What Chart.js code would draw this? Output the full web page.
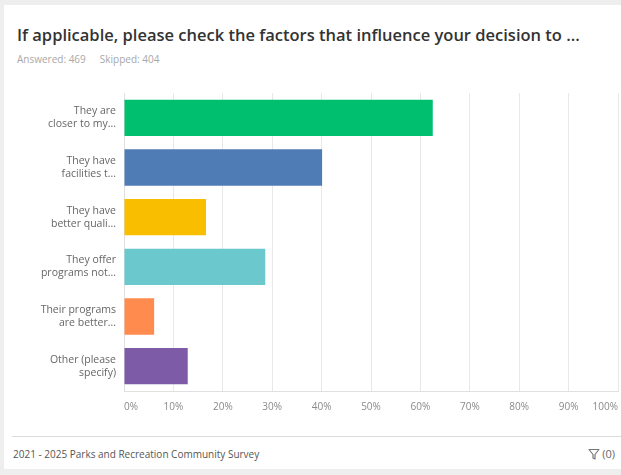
<!DOCTYPE html>
<html>
<head>
<meta charset="utf-8">
<script src="https://cdn.jsdelivr.net/npm/chart.js@4"></script>
<style>
  html, body { margin: 0; padding: 0; }
  body { width: 621px; height: 475px; background: #eeeeee; position: relative; overflow: hidden; font-family: "Open Sans", sans-serif; }
  .card { position: absolute; left: 4px; top: 5px; right: 0; bottom: 6px; background: #fff; }
  .title { position: absolute; left: 17px; top: 23px; font-size: 16.5px; font-weight: 600; color: #333; white-space: nowrap; }
  .meta { position: absolute; left: 17px; top: 52px; font-size: 10px; color: #a8a8a8; }
  .meta span { margin-right: 14px; }
  .chart-wrap { position: absolute; left: 0; top: 85px; width: 621px; height: 335px; }
  .footer-line { position: absolute; left: 12px; right: 0; top: 436px; border-top: 1px solid #dcdcdc; }
  .footer { position: absolute; left: 13px; top: 447px; font-size: 10px; color: #555; }
  .filter { position: absolute; right: 6px; top: 446px; font-size: 11px; color: #666; }
  .filter svg { vertical-align: -2px; margin-right: 2px; }
</style>
</head>
<body>
<div class="card"></div>
<div class="title">If applicable, please check the factors that influence your decision to ...</div>
<div class="meta"><span>Answered: 469</span><span>Skipped: 404</span></div>
<div class="chart-wrap"><canvas id="chart" width="621" height="335"></canvas></div>
<div class="footer-line"></div>
<div class="footer">2021 - 2025 Parks and Recreation Community Survey</div>
<div class="filter"><svg width="12" height="12" viewBox="0 0 12 12"><path d="M1 1.5h10L7 6.5V11L5 10V6.5z" fill="none" stroke="#777" stroke-width="1.2" stroke-linejoin="round"/></svg>(0)</div>

<script>
// answer choices (labels are truncated the same way the survey tool does)
const categories = [
  ["They are", "closer to my..."],
  ["They have", "facilities t..."],
  ["They have", "better quali..."],
  ["They offer", "programs not..."],
  ["Their programs", "are better..."],
  ["Other (please", "specify)"]
];
// share of respondents, percent
const responses = [62.5, 40.1, 16.6, 28.6, 6.1, 12.9];
const barColors = ["#00bf6f", "#507cb6", "#f9be00", "#6bc8cd", "#ff8b4f", "#7d5ba6"];
const tickValues = [0, 10, 20, 30, 40, 50, 60, 70, 80, 90, 100];

const ctx = document.getElementById("chart").getContext("2d");
const myChart = new Chart(ctx, {
  type: "bar",
  data: {
    labels: categories,
    datasets: [
      {
        data: responses,
        backgroundColor: barColors,
        borderWidth: 0,
        categoryPercentage: 0.73,
        barPercentage: 1
      }
    ]
  },
  options: {
    indexAxis: "y",
    responsive: false,
    animation: false,
    layout: { padding: { top: 8, right: 3, bottom: 9, left: 0 } },
    plugins: { legend: { display: false }, tooltip: { enabled: false } },
    scales: {
      x: {
        min: 0,
        max: 100,
        afterBuildTicks: function (scale) {
          scale.ticks = tickValues.map(function (v) { return { value: v }; });
        },
        afterFit: function (scale) {
          scale.height = 20;
          scale.paddingLeft = 0;
          scale.paddingRight = 0;
        },
        grid: { color: "#e8e8e8", drawTicks: false },
        border: { color: "#e0e0e0" },
        ticks: {
          align: "inner",
          padding: 10,
          color: "#8a8a8a",
          font: { family: "Open Sans", size: 10 },
          callback: function (v) { return v + "%"; }
        }
      },
      y: {
        afterFit: function (scale) {
          scale.width = 124;
          scale.paddingTop = 0;
          scale.paddingBottom = 0;
        },
        grid: { display: false, drawTicks: false },
        border: { color: "#e0e0e0" },
        ticks: {
          padding: 8,
          color: "#666",
          font: { family: "Open Sans", size: 10.5, lineHeight: 1.25 }
        }
      }
    }
  }
});
</script>
</body>
</html>
